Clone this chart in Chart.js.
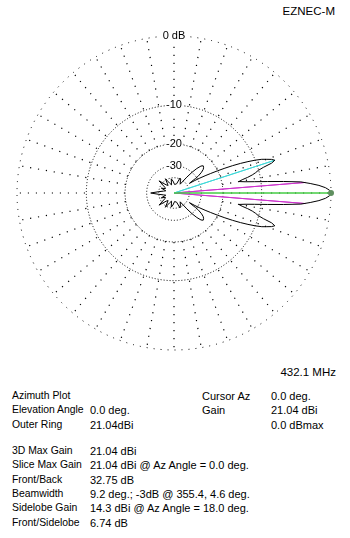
<!DOCTYPE html>
<html><head><meta charset="utf-8">
<script src="https://cdn.jsdelivr.net/npm/chart.js@4.4.1/dist/chart.umd.min.js"></script>
<style>
html,body{margin:0;padding:0;background:#fff;}
body{width:350px;height:538px;position:relative;overflow:hidden;font-family:"Liberation Sans",Arial,sans-serif;font-size:11px;color:#000;}
.t{position:absolute;white-space:nowrap;line-height:14.3px;}
.l{font-size:10.4px;}
#wrap{position:absolute;left:9px;top:28px;width:330px;height:330px;}
</style></head><body>
<div class="t" style="right:15px;top:4px;font-size:11.5px">EZNEC-M</div>
<div id="wrap"><canvas id="c" width="330" height="330"></canvas></div>
<div class="t" style="right:14px;top:365px;font-size:11.5px">432.1 MHz</div>

<div class="t l" style="left:12px;top:389px">Azimuth Plot</div>
<div class="t" style="left:202px;top:389px">Cursor Az</div>
<div class="t" style="left:271px;top:389px">0.0 deg.</div>
<div class="t l" style="left:12px;top:403.3px">Elevation Angle</div>
<div class="t" style="left:90px;top:403.3px">0.0 deg.</div>
<div class="t" style="left:202px;top:403.3px">Gain</div>
<div class="t" style="left:271px;top:403.3px">21.04 dBi</div>
<div class="t l" style="left:12px;top:417.6px">Outer Ring</div>
<div class="t" style="left:90px;top:417.6px">21.04dBi</div>
<div class="t" style="left:271px;top:417.6px">0.0 dBmax</div>

<div class="t l" style="left:12px;top:444px">3D Max Gain</div>
<div class="t" style="left:90px;top:444px">21.04 dBi</div>
<div class="t l" style="left:12px;top:458.3px">Slice Max Gain</div>
<div class="t" style="left:90px;top:458.3px">21.04 dBi @ Az Angle = 0.0 deg.</div>
<div class="t l" style="left:12px;top:472.6px">Front/Back</div>
<div class="t" style="left:90px;top:472.6px">32.75 dB</div>
<div class="t l" style="left:12px;top:486.9px">Beamwidth</div>
<div class="t" style="left:90px;top:486.9px">9.2 deg.; -3dB @ 355.4, 4.6 deg.</div>
<div class="t l" style="left:12px;top:501.2px">Sidelobe Gain</div>
<div class="t" style="left:90px;top:501.2px">14.3 dBi @ Az Angle = 18.0 deg.</div>
<div class="t l" style="left:12px;top:515.5px">Front/Sidelobe</div>
<div class="t" style="left:90px;top:515.5px">6.74 dB</div>

<script>
// ---- data (azimuth in degrees CCW from right, gain in dB relative to max) ----
const azimuthDeg = [
0,1,2,3,4,5,6,7,8,9,10,11,12,13,14,15,16,17,18,19,20,21,22,23,24,25,26,27,28,29,30,31,32,33,34,35,37,39,41,43,45,47,49,51,55,62,68,74,86,95,101,107,114,121,128,134,141,148,153,159,165,170,175,180,
185,190,195,201,207,212,219,226,232,239,246,253,259,265,274,286,292,298,305,309,311,313,315,317,319,321,323,325,326,327,328,329,330,331,332,333,334,335,336,337,338,339,340,341,342,343,344,345,346,347,348,349,350,351,352,353,354,355,356,357,358,359];
const gainDb = [
0,-0.15,-0.6,-1.35,-2.4,-3.6,-6.1,-8.8,-11.3,-13.4,-14.9,-14.0,-12.6,-11.5,-10.7,-10.1,-9.0,-7.4,-6.74,-7.2,-8.0,-8.8,-10.0,-11.5,-13.2,-15.2,-17.5,-20.0,-22.8,-25.5,-28.5,-32,-37,-35,-31,-28.5,-26,-24.5,-23.8,-23.5,-24.3,-26.5,-30,-35,-46,-42,-39,-48,-50,-44,-41,-50,-46,-38.5,-48,-45,-36,-46,-48,-42,-50,-46,-40,-32.75,
-40,-46,-50,-42,-48,-46,-36,-45,-48,-38.5,-46,-50,-41,-44,-50,-48,-39,-42,-46,-35,-30,-26.5,-24.3,-23.5,-23.8,-24.5,-26,-28.5,-31,-35,-37,-32,-28.5,-25.5,-22.8,-20,-17.5,-15.2,-13.2,-11.5,-10,-8.8,-8,-7.2,-6.74,-7.4,-9,-10.1,-10.7,-11.5,-12.6,-14,-14.9,-13.4,-11.3,-8.8,-6.1,-3.6,-2.4,-1.35,-0.6,-0.15];
const ringDb = [0, -10, -20, -30, -40];
const ringLabels = ['0 dB', '-10', '-20', '-30', ''];
const maxGainDbi = 21.04;
const cursorAz = [0.0];
const sidelobeAz = [18.0];
const sidelobeDbi = [14.3];
const beamwidthAz = [355.4, 4.6];
const halfPowerDb = -3;
const spokeStepDeg = 10;

// ---- ARRL log scale: each 2 dB down => radius x 0.89 ----
const rv = db => Math.pow(0.89, -db / 2);
const STEP = 0.2;
const N = Math.round(360 / STEP);
const toIndex = az => Math.round((((90 - az) % 360) + 360) % 360 / STEP) % N;
const empty = () => new Array(N).fill(null);

const pattern = empty();
azimuthDeg.forEach((az, i) => { pattern[toIndex(az)] = rv(gainDb[i]); });

function ray(az, db) {
  const d = empty();
  const k = toIndex(az);
  d[k] = rv(db);
  d[(k + 1) % N] = 0;
  return d;
}
const cursorData = ray(cursorAz[0], 0);
const sideData = ray(sidelobeAz[0], sidelobeDbi[0] - maxGainDbi);
const bw1 = ray(beamwidthAz[0], halfPowerDb);
const bw2 = ray(beamwidthAz[1], halfPowerDb);

const tickValues = [0].concat(ringDb.slice().reverse().map(rv));
const tickText = [''].concat(ringLabels.slice().reverse());
const labels = Array.from({length: N}, () => '');
const FONT = '"Liberation Sans", Arial, sans-serif';
const base = {fill: false, spanGaps: true, borderWidth: 1, pointRadius: 0, tension: 0};
const cursorIdx = toIndex(cursorAz[0]);

new Chart(document.getElementById('c'), {
  type: 'radar',
  data: {
    labels,
    datasets: [
      Object.assign({}, base, {data: cursorData, borderColor: '#44cc44',
        pointRadius: c => c.dataIndex === cursorIdx ? 3 : 0,
        pointBackgroundColor: '#5f8f5f', pointBorderColor: '#5f8f5f', pointBorderWidth: 0}),
      Object.assign({}, base, {data: pattern, borderColor: '#000000'}),
      Object.assign({}, base, {data: sideData, borderColor: '#40d8d8'}),
      Object.assign({}, base, {data: bw1, borderColor: '#cc33cc'}),
      Object.assign({}, base, {data: bw2, borderColor: '#cc33cc'})
    ]
  },
  options: {
    responsive: false, animation: false,
    layout: {padding: 0},
    plugins: {legend: {display: false}, tooltip: {enabled: false}},
    scales: {
      r: {
        min: 0, max: 1, startAngle: 0,
        afterBuildTicks: s => { s.ticks = tickValues.map(v => ({value: v})); },
        ticks: {
          display: true,
          callback: (v, i) => tickText[i],
          font: {family: FONT, size: 11},
          color: '#000',
          backdropColor: c => tickText[c.index] ? '#ffffff' : 'rgba(0,0,0,0)',
          backdropPadding: {x: 1, y: 2}
        },
        grid: {circular: true, color: '#000', lineWidth: 1},
        border: {dash: c => c.index === tickValues.length - 1 ? [1, 6] : [1, 2]},
        angleLines: {
          display: true, color: '#000',
          lineWidth: c => (c.index % Math.round(spokeStepDeg / STEP) === 0) ? 1.2 : 0,
          borderDash: c => {
            const sc = c.chart.scales.r;
            const start = sc.getDistanceFromCenterForValue(rv(-20));
            const arr = [0, start];
            for (let i = 0; i < 40; i++) arr.push(1.2, 6.8);
            return arr;
          }
        },
        pointLabels: {display: false}
      }
    }
  }
});
</script>
</body></html>
